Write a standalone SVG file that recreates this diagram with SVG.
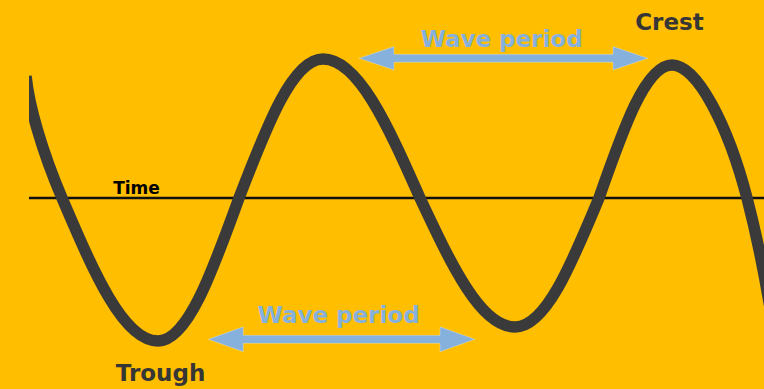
<svg xmlns="http://www.w3.org/2000/svg" width="764" height="389" viewBox="0 0 764 389">
  <defs>
    <style>
      .bg { fill: #FFBE00; }
      .axis { stroke: #111111; stroke-width: 2.5; fill: none; }
      .wave { stroke: #3A3A3A; stroke-width: 11.5; fill: none; stroke-linecap: butt; }
      .arrow { fill: #86B1DD; stroke: #FFFFFF; stroke-opacity: 0.35; stroke-width: 0.8; }
      .lbl-blue { font-family: "DejaVu Sans", "Liberation Sans", sans-serif; font-weight: bold; font-size: 23px; fill: #86B1DD; text-anchor: middle; }
      .lbl-dark { font-family: "DejaVu Sans", "Liberation Sans", sans-serif; font-weight: bold; font-size: 23px; fill: #363636; text-anchor: middle; }
      .lbl-time { font-family: "DejaVu Sans", "Liberation Sans", sans-serif; font-weight: bold; font-size: 17px; fill: #000000; text-anchor: middle; }
    </style>
    <clipPath id="clip-wave">
      <rect x="29" y="0" width="735" height="389"/>
    </clipPath>
  </defs>

  <rect class="bg" x="0" y="0" width="764" height="389"/>

  <g id="time-axis">
    <line class="axis" x1="29" y1="198" x2="764" y2="198"/>
    <text class="lbl-time" x="136.5" y="194">Time</text>
  </g>

  <g id="wave" clip-path="url(#clip-wave)">
    <path class="wave" d="M26,76 C29,106 42,151 62,198
      C94.1,273.1 123.3,341 158,341
      C187.3,341 211.9,273.1 239,198
      C267.1,125 292.6,59 323,59
      C358.1,59 387.6,125 420,198
      C451.8,265.7 480.6,327 515,327
      C545.4,327 570.9,265.7 599,198
      C623.4,128.2 645.6,65 672,65
      C697,65 728,125 747,198
      C756.5,234.5 764,270 772,320"/>
  </g>

  <g id="connectors">
    <polygon id="arrow-top" class="arrow" points="359,58.3 394,46.6 394,54.3 613,54.3 613,46.6 648,58.3 613,70 613,62.3 394,62.3 394,70"/>
    <polygon id="arrow-bottom" class="arrow" points="208.3,339.3 243.3,326.8 243.3,335.3 440,335.3 440,326.8 475,339.3 440,351.8 440,343.3 243.3,343.3 243.3,351.8"/>
  </g>

  <g id="label-period-top">
    <text class="lbl-blue" x="501.5" y="47">Wave period</text>
  </g>
  <g id="label-period-bottom">
    <text class="lbl-blue" x="338.5" y="323">Wave period</text>
  </g>
  <g id="label-crest">
    <text class="lbl-dark" x="669.5" y="29.5">Crest</text>
  </g>
  <g id="label-trough">
    <text class="lbl-dark" x="160.5" y="380.5">Trough</text>
  </g>
</svg>
